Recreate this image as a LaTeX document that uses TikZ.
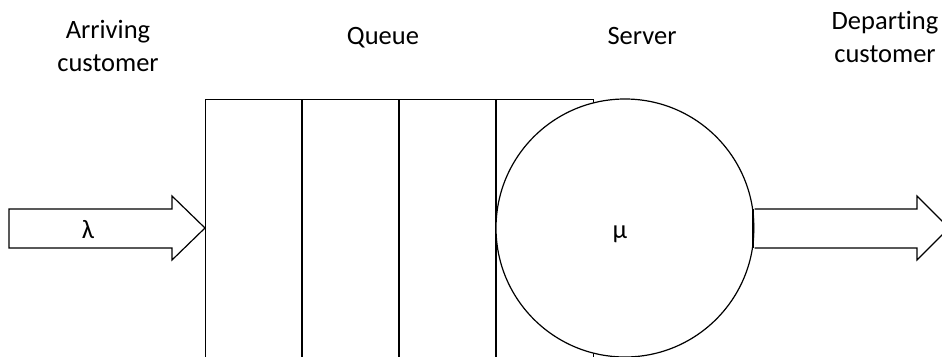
\documentclass[tikz,border=0pt]{standalone}
\usepackage{fontspec}
\setmainfont[Ligatures=NoCommon]{Carlito}
\begin{document}
\begin{tikzpicture}[x=1pt,y=-1pt,line width=1.2pt,line join=miter,
  outline/.style={draw=black,fill=white},
  lbl/.style={font=\fontsize{26.5}{32.5}\selectfont,align=center,inner sep=0pt,anchor=base},
  sym/.style={font=\fontsize{26.5}{32.5}\selectfont,inner sep=0pt,anchor=base}]
\useasboundingbox (0,0) rectangle (942,356);
\clip (0,0) rectangle (942,356);

% queue: a tall box split into four slots
\node[outline,rectangle,minimum width=388pt,minimum height=262pt,inner sep=0pt,anchor=north west]
  (queue) at (205,99) {};
\foreach \x in {302,399,496}
  \draw (\x,99) -- (\x,361);

% server
\node[outline,circle,minimum size=258pt,inner sep=0pt] (server) at (625,228) {};
\node[sym] (mu) at (620,238) {μ};

% arriving customers (block arrow into the queue)
\coordinate (inTip) at (queue.west |- server.center);
\draw[outline] (9,209) -- (172,209) -- (172,196) -- (inTip) -- (172,260) -- (172,248) -- (9,248) -- cycle;
\node[sym] (lambda) at (88,238) {λ};

% departing customers (block arrow out of the server)
\coordinate (outTip) at (949,228);
\draw[outline] (server.east |- 0,209) -- (917,209) -- (917,196) -- (outTip) -- (917,260) -- (917,248) -- (server.east |- 0,248);
\draw (753,209) -- (753,248);

% labels (base anchor sits on the last line)
\node[lbl] (arr) at (108,71) {Arriving\\customer};
\node[lbl] (que) at (383,44) {Queue};
\node[lbl] (srv) at (642,44) {Server};
\node[lbl] (dep) at (885,62) {Departing\\customer};
\end{tikzpicture}
\end{document}
